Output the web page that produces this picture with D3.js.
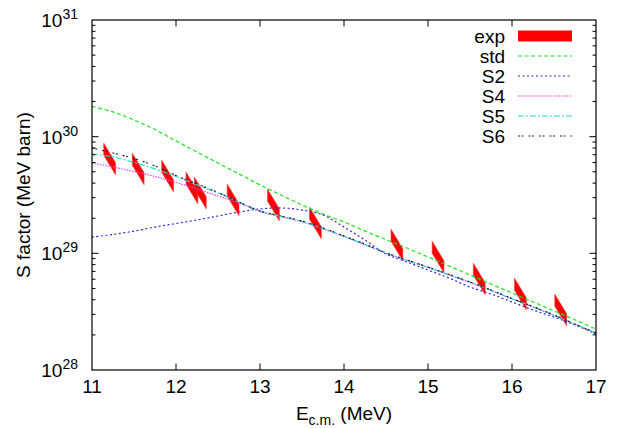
<!DOCTYPE html>
<html>
<head>
<meta charset="utf-8">
<script src="https://cdn.jsdelivr.net/npm/d3@7"></script>
<style>
  html, body { margin: 0; padding: 0; background: #fff; }
  svg { display: block; font-family: "Liberation Sans", Arial, Helvetica, sans-serif; }
</style>
</head>
<body>
<svg id="chart" width="621" height="429"></svg>
<script>
// Energy grid (MeV, centre of mass) shared by all model curves
const energyGrid = [11, 11.25, 11.5, 11.75, 12, 12.25, 12.5, 12.75, 13, 13.25, 13.5, 13.75,
                    14, 14.25, 14.5, 14.75, 15, 15.25, 15.5, 15.75, 16, 16.25, 16.5, 16.75, 17];

// Astrophysical S factor (MeV barn) for each model
const sStd = [1.82e30, 1.63e30, 1.39e30, 1.15e30, 9.19e29, 7.39e29, 5.94e29, 4.79e29, 3.86e29,
              3.16e29, 2.60e29, 2.17e29, 1.86e29, 1.55e29, 1.31e29, 1.11e29, 9.31e28, 7.79e28,
              6.52e28, 5.46e28, 4.57e28, 3.83e28, 3.21e28, 2.69e28, 2.24e28];
const sS2  = [1.38e29, 1.45e29, 1.55e29, 1.68e29, 1.80e29, 1.93e29, 2.09e29, 2.26e29, 2.40e29,
              2.45e29, 2.35e29, 2.13e29, 1.68e29, 1.30e29, 9.86e28, 8.43e28, 7.19e28, 6.15e28,
              5.14e28, 4.48e28, 3.83e28, 3.27e28, 2.84e28, 2.43e28, 2.04e28];
const sS4  = [5.94e29, 5.50e29, 5.03e29, 4.56e29, 4.05e29, 3.56e29, 3.10e29, 2.70e29, 2.28e29,
              2.06e29, 1.86e29, 1.62e29, 1.39e29, 1.18e29, 1.00e29, 8.66e28, 7.55e28, 6.52e28,
              5.62e28, 4.80e28, 4.06e28, 3.47e28, 2.93e28, 2.46e28, 2.06e28];
const sS5  = [7.10e29, 6.70e29, 6.01e29, 5.29e29, 4.56e29, 3.86e29, 3.29e29, 2.75e29, 2.30e29,
              2.08e29, 1.88e29, 1.64e29, 1.40e29, 1.19e29, 1.01e29, 8.72e28, 7.60e28, 6.56e28,
              5.66e28, 4.83e28, 4.08e28, 3.49e28, 2.95e28, 2.47e28, 2.07e28];
const sS6  = [8.00e29, 7.24e29, 6.50e29, 5.61e29, 4.65e29, 3.93e29, 3.32e29, 2.75e29, 2.31e29,
              2.09e29, 1.89e29, 1.65e29, 1.41e29, 1.20e29, 1.01e29, 8.77e28, 7.64e28, 6.59e28,
              5.68e28, 4.85e28, 4.10e28, 3.50e28, 2.96e28, 2.48e28, 2.07e28];

// Experimental points: energy (MeV) and S factor (MeV barn)
const expE = [11.21, 11.55, 11.90, 12.19, 12.29, 12.68, 13.16, 13.66, 14.63, 15.12, 15.61, 16.10, 16.58];
const expS = [6.44e29, 5.29e29, 4.60e29, 3.63e29, 3.29e29, 2.87e29, 2.60e29, 1.82e29,
              1.18e29, 9.3e28, 6.03e28, 4.48e28, 3.27e28];

const xTicks = [11, 12, 13, 14, 15, 16, 17];
const yDecades = [28, 29, 30, 31];

const legendNames = ["exp", "std", "S2", "S4", "S5", "S6"];

const models = [
  { name: "std", values: sStd, color: "#22e022", dash: "4,2.5" },
  { name: "S2",  values: sS2,  color: "#2a2ae0", dash: "2,2.5" },
  { name: "S4",  values: sS4,  color: "#ee40ee", dash: "1.5,1.2" },
  { name: "S5",  values: sS5,  color: "#20dada", dash: "6,2,2,2" },
  { name: "S6",  values: sS6,  color: "#222222", dash: "2,1.5,2,5" }
];

const svg = d3.select("#chart");
const margin = { left: 92, right: 25, top: 20, bottom: 59 };
const W = 621, H = 429;
const x0 = margin.left, x1 = W - margin.right, y0 = margin.top, y1 = H - margin.bottom;

const x = d3.scaleLinear().domain([11, 17]).range([x0, x1]);
const y = d3.scaleLog().domain([1e28, 1e31]).range([y1, y0]);

const FONT = 19;

// Experimental data: slanted red bands
const dE = 0.07;
const slantHi = 0.135, slantLo = 0.032; // log10 offsets of band corners
const expG = svg.append("g");
expE.forEach((e, i) => {
  const s = expS[i];
  const pts = [
    [x(e - dE), y(s * Math.pow(10, slantHi))],
    [x(e + dE), y(s * Math.pow(10, -slantLo))],
    [x(e + dE), y(s * Math.pow(10, -slantHi))],
    [x(e - dE), y(s * Math.pow(10, slantLo))]
  ];
  expG.append("path")
    .attr("d", "M" + pts.map(p => p.join(",")).join("L") + "Z")
    .attr("fill", "#ff0000")
    .attr("stroke", "#ff3030")
    .attr("stroke-width", 0.6);
});

// Model curves
const line = d3.line()
  .x((d, i) => x(energyGrid[i]))
  .y(d => y(d))
  .curve(d3.curveCatmullRom);

models.forEach(m => {
  svg.append("path")
    .attr("d", line(m.values))
    .attr("fill", "none")
    .attr("stroke", m.color)
    .attr("stroke-width", 1.2)
    .attr("stroke-dasharray", m.dash);
});

// Frame
svg.append("rect")
  .attr("x", x0).attr("y", y0)
  .attr("width", x1 - x0).attr("height", y1 - y0)
  .attr("fill", "none").attr("stroke", "#000").attr("stroke-width", 1.2);

const tickG = svg.append("g").attr("stroke", "#000").attr("stroke-width", 1);
const majorLen = 6.5, minorLen = 3.5;

// x ticks (bottom and mirrored on top)
xTicks.forEach(t => {
  const px = x(t);
  if (t > 11 && t < 17) {
    tickG.append("line").attr("x1", px).attr("x2", px).attr("y1", y1).attr("y2", y1 - majorLen);
    tickG.append("line").attr("x1", px).attr("x2", px).attr("y1", y0).attr("y2", y0 + majorLen);
  }
  svg.append("text")
    .attr("x", px).attr("y", y1 + 23)
    .attr("text-anchor", "middle")
    .attr("font-size", FONT)
    .text(t);
});

// y ticks: decades plus log minor ticks on both sides
yDecades.forEach((d, k) => {
  const v = Math.pow(10, d);
  const py = y(v);
  if (k > 0 && k < yDecades.length - 1) {
    tickG.append("line").attr("x1", x0).attr("x2", x0 + majorLen).attr("y1", py).attr("y2", py);
    tickG.append("line").attr("x1", x1).attr("x2", x1 - majorLen).attr("y1", py).attr("y2", py);
  }
  if (k < yDecades.length - 1) {
    for (let m = 2; m <= 9; m++) {
      const pm = y(m * v);
      tickG.append("line").attr("x1", x0).attr("x2", x0 + minorLen).attr("y1", pm).attr("y2", pm);
      tickG.append("line").attr("x1", x1).attr("x2", x1 - minorLen).attr("y1", pm).attr("y2", pm);
    }
  }
  const lab = svg.append("text")
    .attr("x", 78).attr("y", py + 7)
    .attr("text-anchor", "end")
    .attr("font-size", FONT);
  lab.append("tspan").text("10");
  lab.append("tspan").attr("dy", -8).attr("font-size", 14).text(d);
});

// Axis titles
const xt = svg.append("text")
  .attr("x", (x0 + x1) / 2).attr("y", 420)
  .attr("text-anchor", "middle")
  .attr("font-size", FONT);
xt.append("tspan").text("E");
xt.append("tspan").attr("dy", 5).attr("font-size", 14).text("c.m.");
xt.append("tspan").attr("dy", -5).text(" (MeV)");

svg.append("text")
  .attr("transform", `translate(30,${(y0 + y1) / 2}) rotate(-90)`)
  .attr("text-anchor", "middle")
  .attr("font-size", FONT)
  .text("S factor (MeV barn)");

// Legend
const legX = 505, sampleX0 = 518, sampleX1 = 572, legY0 = 36, legStep = 20;
legendNames.forEach((name, i) => {
  const ly = legY0 + i * legStep;
  svg.append("text")
    .attr("x", legX).attr("y", ly + 7)
    .attr("text-anchor", "end")
    .attr("font-size", FONT)
    .text(name);
  if (name === "exp") {
    svg.append("rect")
      .attr("x", sampleX0).attr("y", ly - 5.5)
      .attr("width", sampleX1 - sampleX0).attr("height", 11)
      .attr("fill", "#ff0000");
  } else {
    const m = models.find(mm => mm.name === name);
    svg.append("line")
      .attr("x1", sampleX0).attr("x2", sampleX1)
      .attr("y1", ly).attr("y2", ly)
      .attr("stroke", m.color)
      .attr("stroke-width", 1.2)
      .attr("stroke-dasharray", m.dash);
  }
});
</script>
</body>
</html>
